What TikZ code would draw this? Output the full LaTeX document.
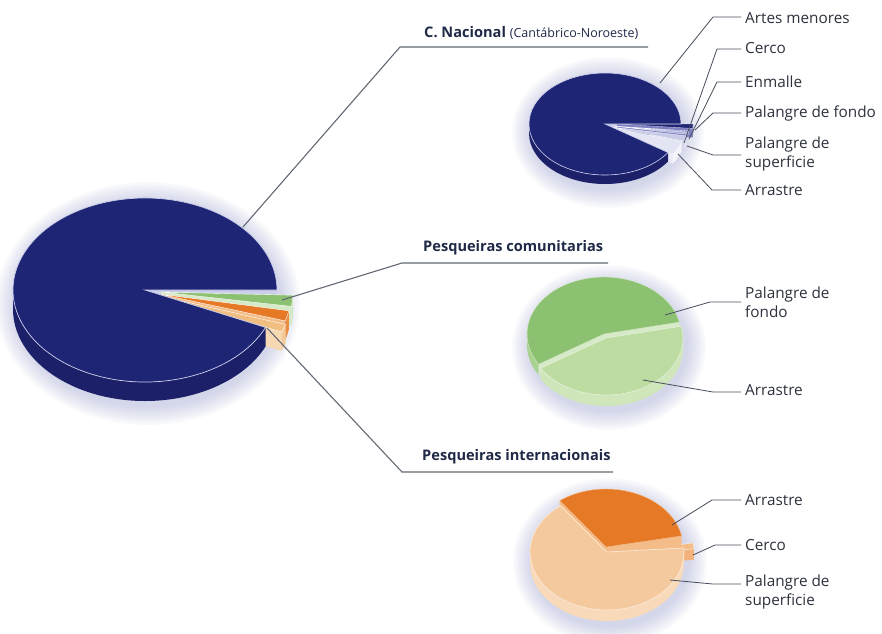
\documentclass[tikz,border=0pt]{standalone}
\usepackage{fontspec}
\setmainfont{Open Sans}
\usetikzlibrary{calc}
\definecolor{navy}{RGB}{31,37,117}
\definecolor{navyside}{RGB}{27,32,104}
\definecolor{rim}{RGB}{205,208,236}
\definecolor{lav}{RGB}{204,206,234}
\definecolor{lavA}{RGB}{125,128,192}
\definecolor{lavB}{RGB}{140,142,201}
\definecolor{lavC}{RGB}{165,167,217}
\definecolor{lavD}{RGB}{201,203,233}
\definecolor{lavDs}{RGB}{225,226,244}
\definecolor{lavE}{RGB}{228,229,244}
\definecolor{lavEs}{RGB}{244,244,251}
\definecolor{lavEc}{RGB}{236,236,248}
\definecolor{gdark}{RGB}{140,193,114}
\definecolor{gdarkside}{RGB}{168,210,144}
\definecolor{gcut}{RGB}{214,234,200}
\definecolor{glight}{RGB}{188,220,162}
\definecolor{glightside}{RGB}{206,230,186}
\definecolor{orng}{RGB}{229,121,38}
\definecolor{orngcut}{RGB}{244,188,136}
\definecolor{peach}{RGB}{245,201,158}
\definecolor{peachside}{RGB}{248,217,186}
\definecolor{tanc}{RGB}{240,190,128}
\definecolor{glowc}{RGB}{150,156,208}
\definecolor{leadc}{RGB}{70,78,92}
\definecolor{txtc}{RGB}{45,50,62}
\definecolor{headc}{RGB}{32,42,72}
% side band of a pie slice: style, rx, ry, h, t1, t2
\newcommand{\pieband}[6]{\fill[#1] (#5:#2 and #3) arc[start angle=#5,end angle=#6,x radius=#2,y radius=#3] -- ++(0,#4) arc[start angle=#6,end angle=#5,x radius=#2,y radius=#3] -- cycle;}
% top face: style, rx, ry, t1, t2
\newcommand{\pietop}[5]{\filldraw[#1] (0,0) -- (#4:#2 and #3) arc[start angle=#4,end angle=#5,x radius=#2,y radius=#3] -- cycle;}
% radial cut face: style, rx, ry, h, t
\newcommand{\piecut}[5]{\fill[#1] (0,0) -- (#5:#2 and #3) -- ++(0,#4) -- (0,#4) -- cycle;}
% soft glow: rx, ry, h
\newcommand{\pieglow}[3]{\foreach \k in {1,...,9}{\pgfmathsetmacro\gx{#1+2.2*\k}\pgfmathsetmacro\gy{#2+#3/2+2.2*\k}\fill[glowc,opacity=0.05] (3,{#3/2+4}) ellipse[x radius=\gx, y radius=\gy];}}
\tikzset{
  leader/.style={draw=leadc, line width=0.8pt},
  underl/.style={draw=leadc!85!white, line width=1.1pt},
  lbl/.style={anchor=west, inner sep=0pt, text=txtc, align=left, font=\fontsize{15.3}{19}\selectfont},
  hdr/.style={anchor=west, inner sep=0pt, text=headc, font=\fontsize{14.6}{18}\selectfont\bfseries},
}
\begin{document}
\begin{tikzpicture}[x=1pt,y=-1pt]
\useasboundingbox (0,0) rectangle (882,633);
\fill[white] (0,0) rectangle (882,633);

% ===== main pie =====
\begin{scope}[shift={(145,290)}]
  \pieglow{132}{92}{19}
  \piecut{lav}{132}{92}{19}{0}
  \begin{scope}[shift={(16,2)}]
    \pieband{glightside}{132}{92}{19}{2}{9}
    \piecut{gcut}{132}{92}{19}{9}
    \pietop{fill=gdark,draw=white,line width=0.4pt}{132}{92}{2}{9}
  \end{scope}
  \begin{scope}[shift={(14,4)}]
    \pieband{orng!85!white}{132}{92}{19}{10.5}{17}
    \piecut{orngcut}{132}{92}{19}{17}
    \pietop{fill=orng,draw=white,line width=0.4pt}{132}{92}{10.5}{17}
  \end{scope}
  \begin{scope}[shift={(15,6)}]
    \pieband{tanc!80!white}{132}{92}{19}{18}{23}
    \piecut{tanc!60!white}{132}{92}{19}{23}
    \pietop{fill=tanc,draw=white,line width=0.4pt}{132}{92}{18}{23}
  \end{scope}
  \pieband{navyside}{132}{92}{19}{24}{180}
  \pietop{fill=navy,draw=rim,line width=0.7pt}{132}{92}{24}{360}
  \coordinate (mN) at (98,-63);
  \coordinate (mC) at (137,10);
  \coordinate (mI) at (122,38);
\end{scope}

% ===== C. Nacional pie =====
\begin{scope}[shift={(605,124)}]
  \pieglow{76}{51}{9}
  \piecut{lav}{76}{51}{9}{0}
  \begin{scope}[shift={(12,0)}]
    \pieband{navyside}{76}{51}{9}{0}{5}
    \piecut{lavA}{76}{51}{9}{5}
    \pietop{fill=navy,draw=rim,line width=0.3pt}{76}{51}{0}{5}
  \end{scope}
  \begin{scope}[shift={(8,2)}]
    \pietop{fill=lavB,draw=white,line width=0.3pt}{76}{51}{5.5}{7}
    \pietop{fill=lavC,draw=white,line width=0.3pt}{76}{51}{7.5}{9.5}
  \end{scope}
  \begin{scope}[shift={(6,3)}]
    \pieband{lavDs}{76}{51}{9}{10}{16}
    \pietop{fill=lavD,draw=white,line width=0.3pt}{76}{51}{10}{16}
  \end{scope}
  \begin{scope}[shift={(4,3)}]
    \pieband{lavEs}{76}{51}{9}{17}{33}
    \piecut{lavEc}{76}{51}{9}{33}
    \pietop{fill=lavE,draw=white,line width=0.3pt}{76}{51}{17}{33}
  \end{scope}
  \pieband{navyside}{76}{51}{9}{34}{180}
  \pietop{fill=navy,draw=rim,line width=0.6pt}{76}{51}{34}{360}
  \coordinate (pA) at (55,-41);
  \coordinate (pB) at (79,19);
  \coordinate (pC) at (84,15);
  \coordinate (pD) at (90,6);
  \coordinate (pE) at (82,22);
  \coordinate (pF) at (73,30);
\end{scope}

% ===== Pesqueiras comunitarias pie =====
\begin{scope}[shift={(606,338)}]
  \pieglow{77}{57}{11}
  \begin{scope}[shift={(-2,-4)}]
    \pieband{gdarkside}{77}{57}{11}{148}{180}
    \piecut{gcut}{77}{57}{11}{148}
    \piecut{gcut}{77}{57}{11}{348}
    \pietop{fill=gdark,draw=gcut,line width=0.4pt}{77}{57}{148}{348}
  \end{scope}
  \pieband{glightside}{77}{57}{11}{0}{148}
  \pietop{fill=glight,draw=white!60!glight,line width=0.6pt}{77}{57}{-12}{148}
  \coordinate (qA) at (59,-23);
  \coordinate (qB) at (37,42);
\end{scope}

% ===== Pesqueiras internacionais pie =====
\begin{scope}[shift={(607,552)}]
  \pieglow{77}{58}{11}
  \begin{scope}[shift={(10,1)}]
    \pieband{orngcut}{77}{58}{11}{350}{356}
    \piecut{orngcut!85!orng}{77}{58}{11}{356}
    \pietop{fill=orngcut,draw=white,line width=0.3pt}{77}{58}{350}{356}
  \end{scope}
  \begin{scope}[shift={(-1,-5)}]
    \piecut{orngcut}{77}{58}{11}{233}
    \piecut{orngcut}{77}{58}{11}{349}
    \pietop{fill=orng,draw=orngcut,line width=0.4pt}{77}{58}{233}{349}
  \end{scope}
  \pieband{peachside}{77}{58}{11}{0}{180}
  \pietop{fill=peach,draw=white!60!peach,line width=0.7pt}{77}{58}{-4}{233}
  \coordinate (rA) at (65,-27);
  \coordinate (rB) at (86,3);
  \coordinate (rC) at (63,28);
\end{scope}

% ===== headers =====
\node[hdr] (hN) at (424,33) {C. Nacional \fontsize{12.5}{14}\selectfont\mdseries(Cantábrico-Noroeste)};
\node[hdr] (hC) at (423,248) {Pesqueiras comunitarias};
\node[hdr] (hI) at (422,457) {Pesqueiras internacionais};
\coordinate (uN1) at (400,47); \coordinate (uN2) at (648,47);
\coordinate (uC1) at (402,263); \coordinate (uC2) at (608,263);
\coordinate (uI1) at (402,472); \coordinate (uI2) at (613,472);
\draw[underl] (mN) -- (uN1) -- (uN2);
\draw[underl] (mC) -- (uC1) -- (uC2);
\draw[underl] (mI) -- (uI1) -- (uI2);

% ===== labels =====
\node[lbl] (tA) at (745,18) {Artes menores};
\node[lbl] (tB) at (745,48) {Cerco};
\node[lbl] (tC) at (745,82) {Enmalle};
\node[lbl] (tD) at (745,113) {Palangre de fondo};
\node[lbl] (tE) at (745,154) {Palangre de\\superficie};
\node[lbl] (tF) at (745,190) {Arrastre};
\node[lbl] (gA) at (745,302) {Palangre de\\fondo};
\node[lbl] (gB) at (745,390) {Arrastre};
\node[lbl] (oA) at (745,500) {Arrastre};
\node[lbl] (oB) at (745,545) {Cerco};
\node[lbl] (oC) at (745,592) {Palangre de\\superficie};

\coordinate (bA) at (713,17);
\coordinate (bB) at (717,49);
\coordinate (bC) at (717,82);
\coordinate (bD) at (713,113);
\coordinate (bE) at (713,155);
\coordinate (bF) at (712,190);
\coordinate (cA) at (710,302);
\coordinate (cB) at (713,392);
\coordinate (dA) at (712,500);
\coordinate (dB) at (715,545);
\coordinate (dC) at (713,584);

\draw[leader] (pA) -- (bA) -- ($(bA -| tA.west)+(-4,0)$);
\draw[leader] (pB) -- (bB) -- ($(bB -| tB.west)+(-4,0)$);
\draw[leader] (pC) -- (bC) -- ($(bC -| tC.west)+(-4,0)$);
\draw[leader] (pD) -- (bD) -- ($(bD -| tD.west)+(-4,0)$);
\draw[leader] (pE) -- (bE) -- ($(bE -| tE.west)+(-4,0)$);
\draw[leader] (pF) -- (bF) -- ($(bF -| tF.west)+(-4,0)$);
\draw[leader] (qA) -- (cA) -- ($(cA -| gA.west)+(-4,0)$);
\draw[leader] (qB) -- (cB) -- ($(cB -| gB.west)+(-4,0)$);
\draw[leader] (rA) -- (dA) -- ($(dA -| oA.west)+(-4,0)$);
\draw[leader] (rB) -- (dB) -- ($(dB -| oB.west)+(-4,0)$);
\draw[leader] (rC) -- (dC) -- ($(dC -| oC.west)+(-4,0)$);
\end{tikzpicture}
\end{document}
